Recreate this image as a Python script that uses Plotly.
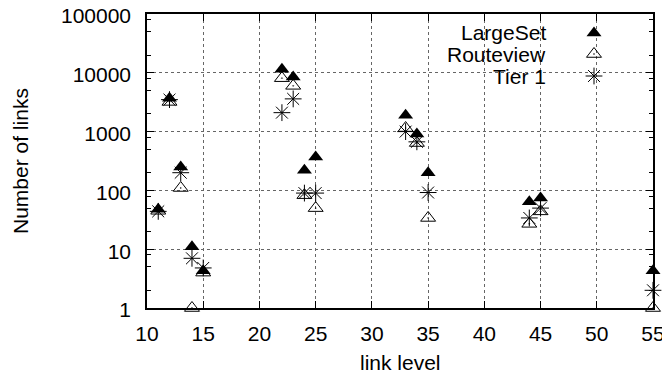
import plotly.graph_objects as go

# ---- data ----
link_level = [11, 12, 13, 14, 15, 22, 23, 24, 25, 33, 34, 35, 44, 45, 55]
largeset   = [48, 3700, 250, 11, 4.3, 11500, 8500, 220, 370, 1900, 910, 200, 64, 74, 4.3]
routeview  = [45, 3200, 110, 1, 4, 8100, 6000, 83, 50, 1150, 640, 34, 27, 44, 1]
tier1      = [44, 3500, 200, 7, 4.8, 2100, 3600, 90, 90, 1000, 670, 92, 34, 50, 2]

series_names = ["LargeSet", "Routeview", "Tier 1"]
x_ticks = [10, 15, 20, 25, 30, 35, 40, 45, 50, 55]
y_ticks = [1, 10, 100, 1000, 10000, 100000]
y_ticklabels = ["1", "10", "100", "1000", "10000", "100000"]
y_minor = [m * 10 ** d for d in range(0, 5) for m in (2, 5, 8)]

FONT = "Liberation Sans, Arial, sans-serif"
FS = 21

styles = [
    dict(symbol="triangle-up", size=13, color="black", line=dict(width=0, color="black")),
    dict(symbol="triangle-up-open-dot", size=13, color="black", line=dict(width=1, color="black")),
    dict(symbol="asterisk-open", size=14, color="black", line=dict(width=1, color="black")),
]

fig = go.Figure()
for name, vals, st in zip(series_names, [largeset, routeview, tier1], styles):
    fig.add_trace(go.Scatter(x=link_level, y=vals, mode="markers", name=name,
                             marker=st, cliponaxis=False, showlegend=False))

# ---- layout geometry (page body has an 8px margin) ----
OFF = 8
W, H = 670 - OFF, 376 - OFF
L, R, T, B = 147 - OFF, 17, 14 - OFF, 68
pw, ph = W - L - R, H - T - B

def px_x(px):
    return (px - OFF - L) / pw

def px_y(py):
    return (H - B - (py - OFF)) / ph

# ---- legend (text right-aligned, symbol to the right), gnuplot style ----
leg_text_x = px_x(548)
leg_sym_x = px_x(594)
leg_ys = [px_y(py) for py in (33, 54, 76)]

for name, st, ly in zip(series_names, styles, leg_ys):
    fig.add_annotation(x=leg_text_x, y=ly, xref="paper", yref="paper", text=name,
                       showarrow=False, xanchor="right", yanchor="middle",
                       font=dict(family=FONT, size=FS, color="black"))
    fig.add_trace(go.Scatter(x=[leg_sym_x], y=[ly], mode="markers", marker=st,
                             xaxis="x2", yaxis="y2", showlegend=False, hoverinfo="skip",
                             cliponaxis=False))

# axis titles
fig.add_annotation(x=0.5, y=px_y(362), xref="paper", yref="paper", text="link level",
                   showarrow=False, xanchor="center", yanchor="middle",
                   font=dict(family=FONT, size=FS, color="black"))
fig.add_annotation(x=px_x(20), y=px_y(161), xref="paper", yref="paper", text="Number of links",
                   showarrow=False, xanchor="center", yanchor="middle", textangle=-90,
                   font=dict(family=FONT, size=FS, color="black"))

axis_common = dict(
    showline=True, linecolor="black", linewidth=1.5, mirror="ticks",
    ticks="inside", ticklen=7, tickwidth=1.2, tickcolor="black",
    showgrid=True, gridcolor="#666", griddash="dot", gridwidth=1,
    zeroline=False, automargin=False, ticklabeloverflow="allow",
    tickfont=dict(family=FONT, size=FS, color="black"),
)

fig.update_layout(
    width=W, height=H,
    margin=dict(l=L, r=R, t=T, b=B, autoexpand=False),
    paper_bgcolor="white", plot_bgcolor="white",
    showlegend=False,
    xaxis=dict(range=[10, 55], tickvals=x_ticks, ticktext=[str(v) for v in x_ticks],
               ticklabelstandoff=6,
               **axis_common),
    yaxis=dict(type="log", range=[0, 5], tickvals=y_ticks, ticktext=y_ticklabels,
               ticklabelstandoff=10, ticklabelshift=2,
               minor=dict(tickvals=y_minor, ticks="inside", ticklen=4, tickcolor="black",
                          tickwidth=1, showgrid=False),
               **axis_common),
    xaxis2=dict(range=[0, 1], overlaying="x", visible=False, fixedrange=True),
    yaxis2=dict(range=[0, 1], overlaying="y", visible=False, fixedrange=True),
)

fig.write_html("out.html")
